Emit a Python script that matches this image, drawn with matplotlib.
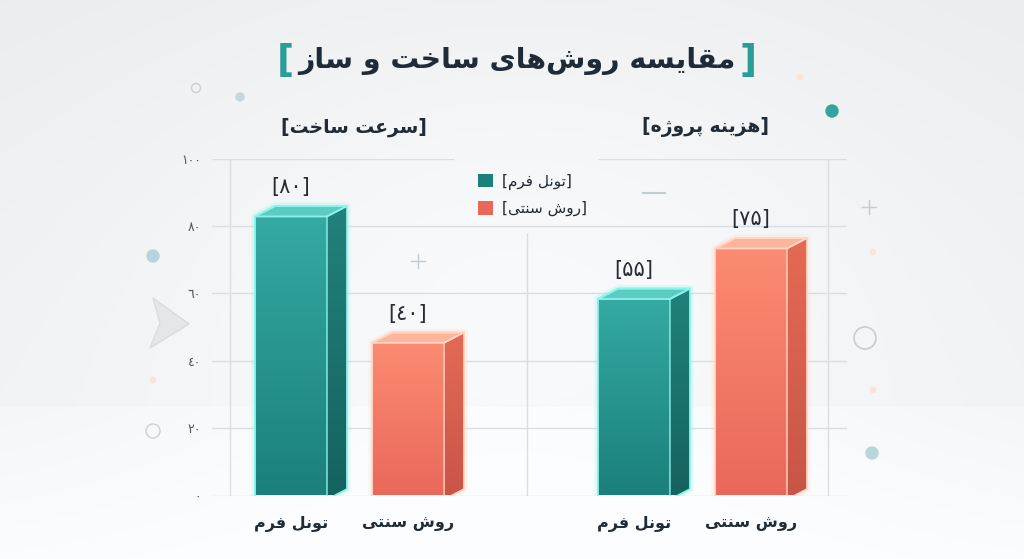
"""
Grouped 3D-style bar chart comparing construction methods (Persian labels).
"""

import numpy as np
import matplotlib.pyplot as plt
from matplotlib.colors import to_rgb
from matplotlib.patches import Polygon, Patch, Circle

# chart data
title_text = 'مقایسه روش‌های ساخت و ساز'
groups = ['سرعت ساخت', 'هزینه پروژه']
methods = ['تونل فرم', 'روش سنتی']
value_labels = ['۸۰', '٤٠', '۵۵', '۷۵']     # printed above the bars
bar_heights = [84, 46.5, 59.5, 74.5]         # heights as drawn on the axis
y_ticks = [0, 20, 40, 60, 80, 100]
y_tick_labels = ['۰', '۲۰', '٤٠', '٦٠', '۸۰', '۱۰۰']

# isolated, final, initial, medial presentation forms
FORMS = {
    'ا': ('\uFE8D', '\uFE8E', None, None),
    'ت': ('\uFE95', '\uFE96', '\uFE97', '\uFE98'),
    'خ': ('\uFEA5', '\uFEA6', '\uFEA7', '\uFEA8'),
    'ر': ('\uFEAD', '\uFEAE', None, None),
    'ز': ('\uFEAF', '\uFEB0', None, None),
    'ژ': ('\uFB8A', '\uFB8B', None, None),
    'س': ('\uFEB1', '\uFEB2', '\uFEB3', '\uFEB4'),
    'ش': ('\uFEB5', '\uFEB6', '\uFEB7', '\uFEB8'),
    'ع': ('\uFEC9', '\uFECA', '\uFECB', '\uFECC'),
    'ف': ('\uFED1', '\uFED2', '\uFED3', '\uFED4'),
    'ق': ('\uFED5', '\uFED6', '\uFED7', '\uFED8'),
    'ل': ('\uFEDD', '\uFEDE', '\uFEDF', '\uFEE0'),
    'م': ('\uFEE1', '\uFEE2', '\uFEE3', '\uFEE4'),
    'ن': ('\uFEE5', '\uFEE6', '\uFEE7', '\uFEE8'),
    'ه': ('\uFEE9', '\uFEEA', '\uFEEB', '\uFEEC'),
    'و': ('\uFEED', '\uFEEE', None, None),
    'ی': ('\uFBFC', '\uFBFD', '\uFBFE', '\uFBFF'),
    'پ': ('\uFB56', '\uFB57', '\uFB58', '\uFB59'),
}


def shape(text):
    """
    Join Persian letters into their contextual forms and return them in
    visual (left to right) order, since matplotlib does no text shaping.
    """
    out = []
    for i, c in enumerate(text):
        if c not in FORMS:
            if c != '\u200c':
                out.append(c)
            continue
        prev = text[i - 1] if i > 0 else None
        nxt = text[i + 1] if i + 1 < len(text) else None
        join_prev = prev in FORMS and FORMS[prev][2] is not None
        join_next = nxt in FORMS and FORMS[c][2] is not None
        iso, fin, ini, med = FORMS[c]
        if join_prev and join_next:
            out.append(med)
        elif join_prev:
            out.append(fin)
        elif join_next:
            out.append(ini)
        else:
            out.append(iso)
    return ''.join(reversed(out))


def px(x, y):
    """pixel position (from top left) to figure fraction"""
    return x / 1024, 1 - y / 559


TEXT = '#1f2b36'
TEAL = '#2a9d96'
face_cols = {
    'teal': dict(front=('#34aaa2', '#1b7f7a'), side=('#21817c', '#15625f'),
                 top='#5ccbc2', edge='#8cf4ea'),
    'coral': dict(front=('#fb8b73', '#e9685a'), side=('#e46a54', '#c85548'),
                  top='#ffb59d', edge='#ffd6c2'),
}
bar_kind = ['teal', 'coral', 'teal', 'coral']

fig = plt.figure(figsize=(10.24, 5.59), dpi=100)

# background
bg = fig.add_axes([0, 0, 1, 1], zorder=-5)
yy, xx = np.mgrid[0:559, 0:1024]
base = 0.928 + 0.03 * (yy / 559)
glow = 0.04 * np.exp(-(((xx - 520) / 450) ** 2 + ((yy - 250) / 320) ** 2))
floor = np.where(yy > 406, 0.012 + 0.02 * (yy - 406) / 153, 0)
lum = np.clip(base + glow + floor, 0, 1)
img = np.dstack([lum * 0.99, lum * 0.995, lum])
bg.imshow(np.clip(img, 0, 1), extent=(0, 1024, 559, 0), aspect='auto')
bg.set_xlim(0, 1024)
bg.set_ylim(559, 0)
bg.axis('off')

# decorations
bg.add_patch(Circle((196, 88), 4.5, fill=False, ec='#c9d2d8', lw=1))
bg.add_patch(Circle((240, 97), 4, color='#c5d6dd'))
bg.add_patch(Circle((832, 111), 6, color='#34a59c'))
bg.add_patch(Circle((153, 256), 6, color='#b9d5dc'))
bg.add_patch(Circle((153, 431), 7, fill=False, ec='#c9d2d8', lw=1))
bg.add_patch(Circle((865, 338), 11, fill=False, ec='#c5ced5', lw=1.2))
bg.add_patch(Circle((872, 453), 6, color='#b9d5dc'))
for gx, gy in [(800, 77), (873, 252), (153, 380), (873, 390)]:
    bg.add_patch(Circle((gx, gy), 2.5, color='#fbe3d6'))
for cx, cy in [(418, 261), (869, 207)]:
    bg.plot([cx - 7, cx + 7], [cy, cy], color='#c3ccd3', lw=1)
    bg.plot([cx, cx], [cy - 7, cy + 7], color='#c3ccd3', lw=1)
bg.plot([643, 665], [193, 193], color='#c3ccd3', lw=1.5)
bg.add_patch(Polygon([(153, 298), (189, 324), (150, 348), (160, 323)],
                     closed=True, fc='#e3e7ea', ec='#d6dce0', lw=1))

# main axes
ax = fig.add_axes([212 / 1024, (559 - 495.5) / 559, 635 / 1024, 337 / 559])
ax.patch.set_alpha(0)
for s in ax.spines.values():
    s.set_visible(False)
x0, x1 = -0.675, 4.75
ax.set_xlim(x0, x1)
ax.set_ylim(0, 100)

grid_col = '#d8dee3'
for t in y_ticks[:-1]:
    ax.axhline(t, color=grid_col, lw=1, zorder=0)
ax.hlines(100, x0, 1.39, color=grid_col, lw=1, zorder=0)
ax.hlines(100, 2.62, x1, color=grid_col, lw=1, zorder=0)
ax.vlines(-0.521, 0, 100, color=grid_col, lw=1, zorder=0)
ax.vlines(2.017, 0, 78, color=grid_col, lw=1, zorder=0)
ax.vlines(4.59, 0, 100, color=grid_col, lw=1, zorder=0)

group_pos = [0.5, 3.43]
xs = [g + o for g in group_pos for o in (-0.5, 0.5)]
width = 0.615
dx, dy = 0.171, 3.1


def grad_fill(poly, c_top, c_bot, z, clip_axes=True):
    """fill a polygon with a vertical gradient"""
    ax.add_patch(poly)
    verts = poly.get_xy()
    x_lo, x_hi = verts[:, 0].min(), verts[:, 0].max()
    y_lo, y_hi = verts[:, 1].min(), verts[:, 1].max()
    t = np.linspace(0, 1, 64)[:, None, None]
    grad = np.array(to_rgb(c_top)) * (1 - t) + np.array(to_rgb(c_bot)) * t
    im = ax.imshow(grad, extent=(x_lo, x_hi, y_lo, y_hi), origin='upper',
                   aspect='auto', zorder=z, interpolation='bilinear')
    im.set_clip_path(poly)
    if not clip_axes:
        im.clipbox = None


bars = ax.bar(xs, bar_heights, width=width, bottom=-1.2, color='none', zorder=3)
for rect, kind, lab in zip(bars, bar_kind, value_labels):
    c = face_cols[kind]
    xl = rect.get_x()
    xr = xl + rect.get_width()
    h = rect.get_height() + rect.get_y()
    b = rect.get_y()
    front = Polygon([(xl, b), (xr, b), (xr, h), (xl, h)], closed=True,
                    fc='none', ec='none', zorder=3)
    side = Polygon([(xr, b), (xr + dx, b + dy), (xr + dx, h + dy), (xr, h)],
                   closed=True, fc='none', ec='none', zorder=3)
    grad_fill(front, c['front'][0], c['front'][1], 3)
    grad_fill(side, c['side'][0], c['side'][1], 3)
    top = Polygon([(xl, h), (xr, h), (xr + dx, h + dy), (xl + dx, h + dy)],
                  closed=True, fc=c['top'], ec=c['edge'], lw=1.3, zorder=4)
    ax.add_patch(top)
    # glowing edges
    outline = [(xl, b), (xl, h), (xl + dx, h + dy), (xr + dx, h + dy),
               (xr + dx, b + dy), (xr, b), (xl, b)]
    ox, oy = zip(*outline)
    ax.plot(ox, oy, color=c['edge'], lw=5, alpha=0.25, zorder=2,
            solid_joinstyle='round')
    ax.plot(ox, oy, color=c['edge'], lw=1.3, zorder=5)
    ax.plot([xr, xr, xr + dx], [b, h, h + dy], color=c['edge'], lw=1.0,
            zorder=5)
    # faint reflection below the floor
    grad_fill(Polygon([(xl, b - 14), (xr + dx, b - 14), (xr + dx, b),
                       (xl, b)], closed=True, fc='none', ec='none',
                      clip_on=False, zorder=1),
              '#e4f0f0' if kind == 'teal' else '#f8e9e5', '#f6f8f9', 1,
              clip_axes=False)
    ax.text(rect.get_x() + width / 2, h + 8.6, '[' + lab + ']',
            ha='center', va='center', fontsize=15, color='#252c33')

ax.set_yticks(y_ticks)
ax.set_yticklabels(y_tick_labels, fontsize=9, color='#4d5862')
ax.set_xticks(xs)
ax.set_xticklabels([shape(m) for m in methods * 2], fontsize=11.5,
                   fontweight='bold', color=TEXT)
ax.tick_params(axis='y', length=0, pad=8)
ax.tick_params(axis='x', length=0, pad=15)

# legend
handles = [Patch(fc=face_cols[k]['front'][1], ec='none') for k in ('teal', 'coral')]
ax.legend(handles, ['[' + shape(m) + ']' for m in methods],
          loc='upper left', bbox_to_anchor=px(470, 166),
          bbox_transform=fig.transFigure, frameon=False, fontsize=11,
          handlelength=1.0, handleheight=1.0, handletextpad=0.6,
          labelspacing=0.75, borderpad=0, labelcolor=TEXT)

# group headers
fig.text(*px(354, 127), '[' + shape(groups[0]) + ']', ha='center',
         va='center', fontsize=13.5, fontweight='bold', color=TEXT)
fig.text(*px(706, 127), '[' + shape(groups[1]) + ']', ha='center',
         va='center', fontsize=13.5, fontweight='bold', color=TEXT)

# title with teal brackets
t = fig.text(*px(517, 61), shape(title_text), ha='center', va='center',
             fontsize=20.5, fontweight='bold', color=TEXT)
plt.annotate('[', xy=(0, 0.5), xycoords=t, xytext=(-3, 0),
             textcoords='offset points', ha='right', va='center',
             fontsize=27, fontweight='bold', color=TEAL)
plt.annotate(']', xy=(1, 0.5), xycoords=t, xytext=(3, 0),
             textcoords='offset points', ha='left', va='center',
             fontsize=27, fontweight='bold', color=TEAL)

fig.savefig('out.png', dpi=100)
